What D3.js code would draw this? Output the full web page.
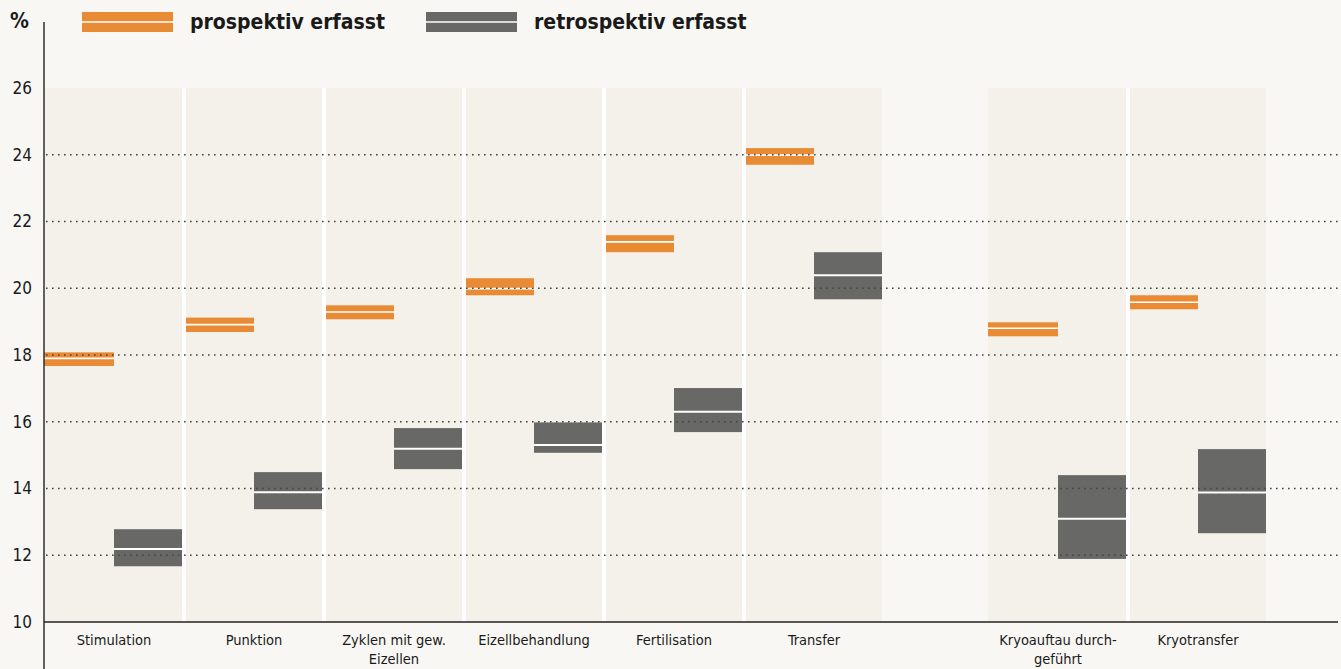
<!DOCTYPE html>
<html><head><meta charset="utf-8">
<script src="https://cdn.jsdelivr.net/npm/d3@7/dist/d3.min.js"></script>
<style>
html,body{margin:0;padding:0;background:#f8f7f3;}
svg{display:block;}
text{font-family:"Liberation Sans Narrow","DejaVu Sans Condensed","Roboto",sans-serif;fill:#1a1a1a;}
</style></head>
<body>
<svg id="chart" width="1341" height="669"></svg>
<script>
const categories = ["Stimulation","Punktion","Zyklen mit gew.\nEizellen","Eizellbehandlung","Fertilisation","Transfer","Kryoauftau durch-\ngeführt","Kryotransfer"];
const groups = [0,0,0,0,0,0,1,1];
const prospValue = [17.90, 18.91, 19.29, 19.99, 21.39, 23.99, 18.80, 19.58];
const prospLow   = [17.67, 18.69, 19.07, 19.79, 21.08, 23.70, 18.56, 19.37];
const prospHigh  = [18.08, 19.12, 19.49, 20.30, 21.59, 24.20, 18.98, 19.79];
const retroValue = [12.19, 13.89, 15.19, 15.30, 16.30, 20.39, 13.09, 13.88];
const retroLow   = [11.67, 13.38, 14.58, 15.07, 15.69, 19.67, 11.89, 12.66];
const retroHigh  = [12.78, 14.49, 15.81, 15.98, 17.01, 21.08, 14.40, 15.18];
const yTicks = [10,12,14,16,18,20,22,24,26];
const gridTicks = [12,14,16,18,20,22,24];
const legendLabels = ["prospektiv erfasst","retrospektiv erfasst"];
const seriesColors = ["#e98a35","#686866"];

const svg = d3.select("#chart");
const y = d3.scaleLinear().domain([10,26]).range([622,88]);
const colW = 140, groupGap = 104, x0 = 44;
const xi = d3.scaleLinear().domain([0,1]).range([x0, x0+colW]);
const colX = i => xi(i) + groups[i]*groupGap;

const data = categories.map((c,i)=>({c,i,
  p:{v:prospValue[i],lo:prospLow[i],hi:prospHigh[i]},
  r:{v:retroValue[i],lo:retroLow[i],hi:retroHigh[i]}}));

// column backgrounds
svg.append("g").selectAll("rect").data(data).join("rect")
  .attr("x",d=>colX(d.i)).attr("y",y(26)).attr("width",colW-2).attr("height",y(10)-y(26))
  .attr("fill","#f4f1ea");

// boxes
const gb = svg.append("g");
gb.selectAll("rect.p").data(data).join("rect").attr("class","p")
  .attr("x",d=>colX(d.i)).attr("width",70)
  .attr("y",d=>y(d.p.hi)).attr("height",d=>y(d.p.lo)-y(d.p.hi))
  .attr("fill",seriesColors[0]);
gb.selectAll("rect.r").data(data).join("rect").attr("class","r")
  .attr("x",d=>colX(d.i)+70).attr("width",68)
  .attr("y",d=>y(d.r.hi)).attr("height",d=>y(d.r.lo)-y(d.r.hi))
  .attr("fill",seriesColors[1]);
gb.selectAll("line.pm").data(data).join("line")
  .attr("x1",d=>colX(d.i)).attr("x2",d=>colX(d.i)+70)
  .attr("y1",d=>y(d.p.v)).attr("y2",d=>y(d.p.v))
  .attr("stroke","#fff").attr("stroke-width",1.6);
gb.selectAll("line.rm").data(data).join("line")
  .attr("x1",d=>colX(d.i)+70).attr("x2",d=>colX(d.i)+138)
  .attr("y1",d=>y(d.r.v)).attr("y2",d=>y(d.r.v))
  .attr("stroke","#fff").attr("stroke-width",2);

// white separators between adjacent columns in same group
svg.append("g").selectAll("rect").data(data.filter(d=>d.i<data.length-1 && groups[d.i]===groups[d.i+1])).join("rect")
  .attr("x",d=>colX(d.i)+colW-2).attr("y",y(26)).attr("width",4).attr("height",y(10)-y(26))
  .attr("fill","#ffffff");

// grid
svg.append("g").selectAll("line").data(gridTicks).join("line")
  .attr("x1",x0+2).attr("x2",1338).attr("y1",d=>y(d)).attr("y2",d=>y(d))
  .attr("stroke","#444").attr("stroke-width",1.6).attr("stroke-dasharray","1.6,4.4");

// axes
svg.append("line").attr("x1",x0).attr("x2",x0).attr("y1",22).attr("y2",669).attr("stroke","#222").attr("stroke-width",1.4);
svg.append("line").attr("x1",x0).attr("x2",1338).attr("y1",y(10)).attr("y2",y(10)).attr("stroke","#222").attr("stroke-width",1.4);

// y tick labels
svg.append("g").selectAll("text").data(yTicks).join("text")
  .attr("x",32).attr("y",d=>y(d)).attr("dy","0.35em").attr("text-anchor","end")
  .attr("font-size",17).text(d=>d);
svg.append("text").attr("x",10).attr("y",28).attr("font-size",21).attr("font-weight","bold").text("%");

// x labels
const xl = svg.append("g").selectAll("text").data(data).join("text")
  .attr("x",d=>colX(d.i)+70).attr("y",645).attr("text-anchor","middle").attr("font-size",14.5);
xl.selectAll("tspan").data(d=>d.c.split("\n").map(t=>({t,x:colX(d.i)+70}))).join("tspan")
  .attr("x",t=>t.x).attr("dy",(t,j)=>j===0?0:19).text(t=>t.t);

// legend
const legX = [82,426];
legendLabels.forEach((lab,k)=>{
  const g = svg.append("g");
  g.append("rect").attr("x",legX[k]).attr("y",12).attr("width",91).attr("height",20).attr("fill",seriesColors[k]);
  g.append("line").attr("x1",legX[k]).attr("x2",legX[k]+91).attr("y1",22).attr("y2",22).attr("stroke","#fff").attr("stroke-width",1.5);
  g.append("text").attr("x",legX[k]+108).attr("y",29).attr("font-size",21).attr("font-weight","bold").text(lab);
});
</script>
</body></html>
